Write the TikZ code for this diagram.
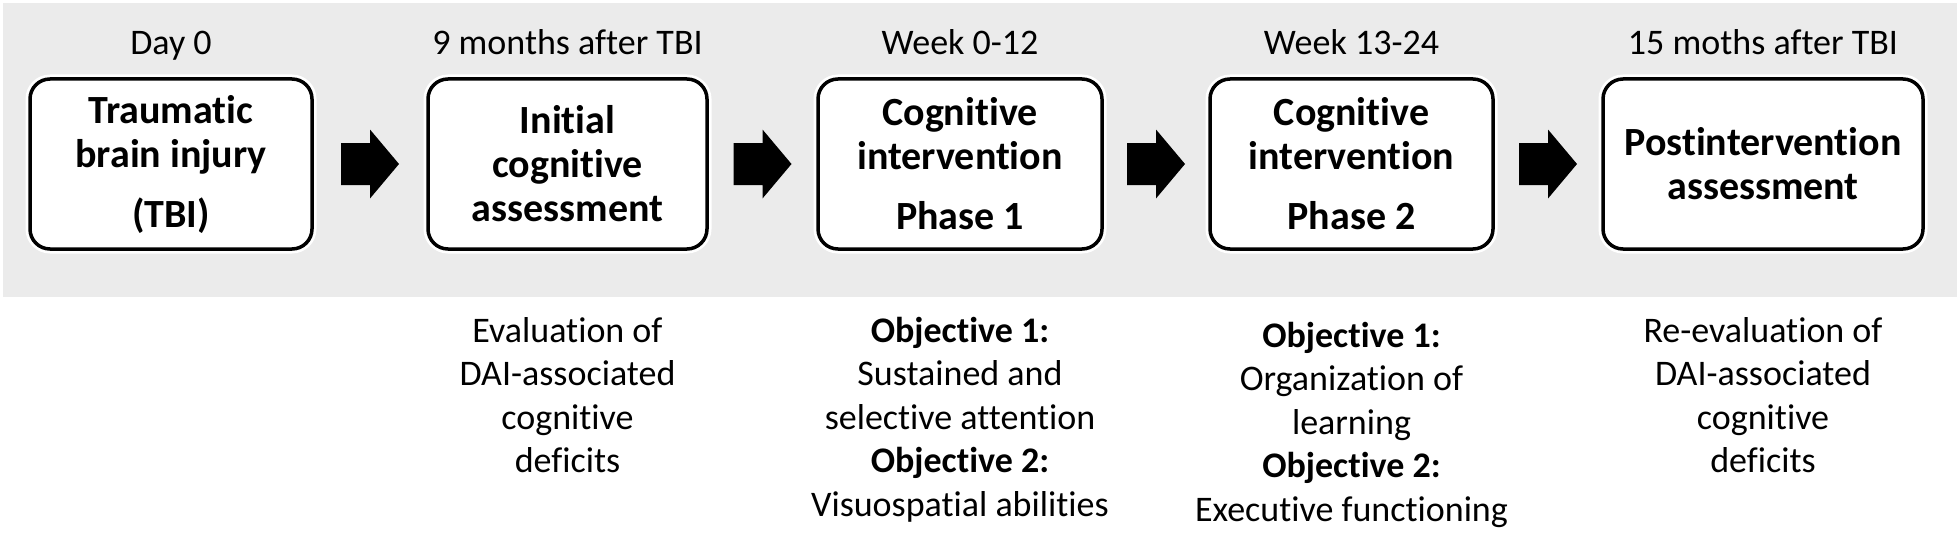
\documentclass[tikz,border=0pt]{standalone}
\usepackage{fontspec}
\setmainfont{Carlito}[Ligatures={NoCommon,NoRare,NoContextual},Contextuals={NoAlternate}]
\usetikzlibrary{calc}
\definecolor{bandgray}{RGB}{235,235,235}
\tikzset{
  stagebox/.style={draw=black, line width=3.5pt, fill=white, rounded corners=20pt,
    minimum height=170pt, inner sep=0pt, align=center,
    font=\fontsize{40}{44}\selectfont\bfseries,
    preaction={draw=white, line width=9pt}},
  hdr/.style={anchor=base, inner sep=0pt, font=\fontsize{36}{43.5}\selectfont},
  note/.style={anchor=north, inner sep=0pt, align=center, font=\fontsize{36}{43.5}\selectfont},
  bigarrow/.pic={\fill[black] (-29,-21) -- (0,-21) -- (0,-34.5) -- (29,0) -- (0,34.5) -- (0,21) -- (-29,21) -- cycle;}
}
\begin{document}
\begin{tikzpicture}[x=1pt,y=-1pt]
\useasboundingbox (0,0) rectangle (1960,543);
\fill[bandgray] (3,3) rectangle (1957,297);

% stage boxes
\node[stagebox, minimum width=282pt] (b1) at (171,164) {Traumatic\\brain injury\\[16pt](TBI)};
\node[stagebox, minimum width=279pt] (b2) at (567.5,164) {Initial\\cognitive\\assessment};
\node[stagebox, minimum width=284pt] (b3) at (960,164) {Cognitive\\intervention\\[16pt]Phase 1};
\node[stagebox, minimum width=283pt] (b4) at (1351.5,164) {Cognitive\\intervention\\[16pt]Phase 2};
\node[stagebox, minimum width=320pt] (b5) at (1763,164) {Postintervention\\assessment};

% headers
\node[hdr] (h1) at (171,55) {Day 0};
\node[hdr] (h2) at (567.5,55) {9 months after TBI};
\node[hdr] (h3) at (960,55) {Week 0-12};
\node[hdr] (h4) at (1351.5,55) {Week 13-24};
\node[hdr] (h5) at (1763,55) {15 moths after TBI};

% arrows
\path (b1) -- (b2) coordinate[midway] (a1);
\path (b2) -- (b3) coordinate[midway] (a2);
\path (b3) -- (b4) coordinate[midway] (a3);
\path (b4) -- (b5) coordinate[midway] (a4);
\pic at (a1) {bigarrow};
\pic at (a2) {bigarrow};
\pic at (a3) {bigarrow};
\pic at (a4) {bigarrow};

% notes
\node[note] (n2) at (567.5,311.5) {\strut Evaluation of\\DAI-associated\\cognitive\\deficits};
\node[note] (n3) at (960,311.5) {\strut\textbf{Objective 1:}\\Sustained and\\selective attention\\\textbf{Objective 2:}\\Visuospatial abilities};
\node[note] (n4) at (1351.5,316.5) {\strut\textbf{Objective 1:}\\Organization of\\learning\\\textbf{Objective 2:}\\Executive functioning};
\node[note] (n5) at (1763,311.5) {\strut Re-evaluation of\\DAI-associated\\cognitive\\deficits};
\end{tikzpicture}
\end{document}
